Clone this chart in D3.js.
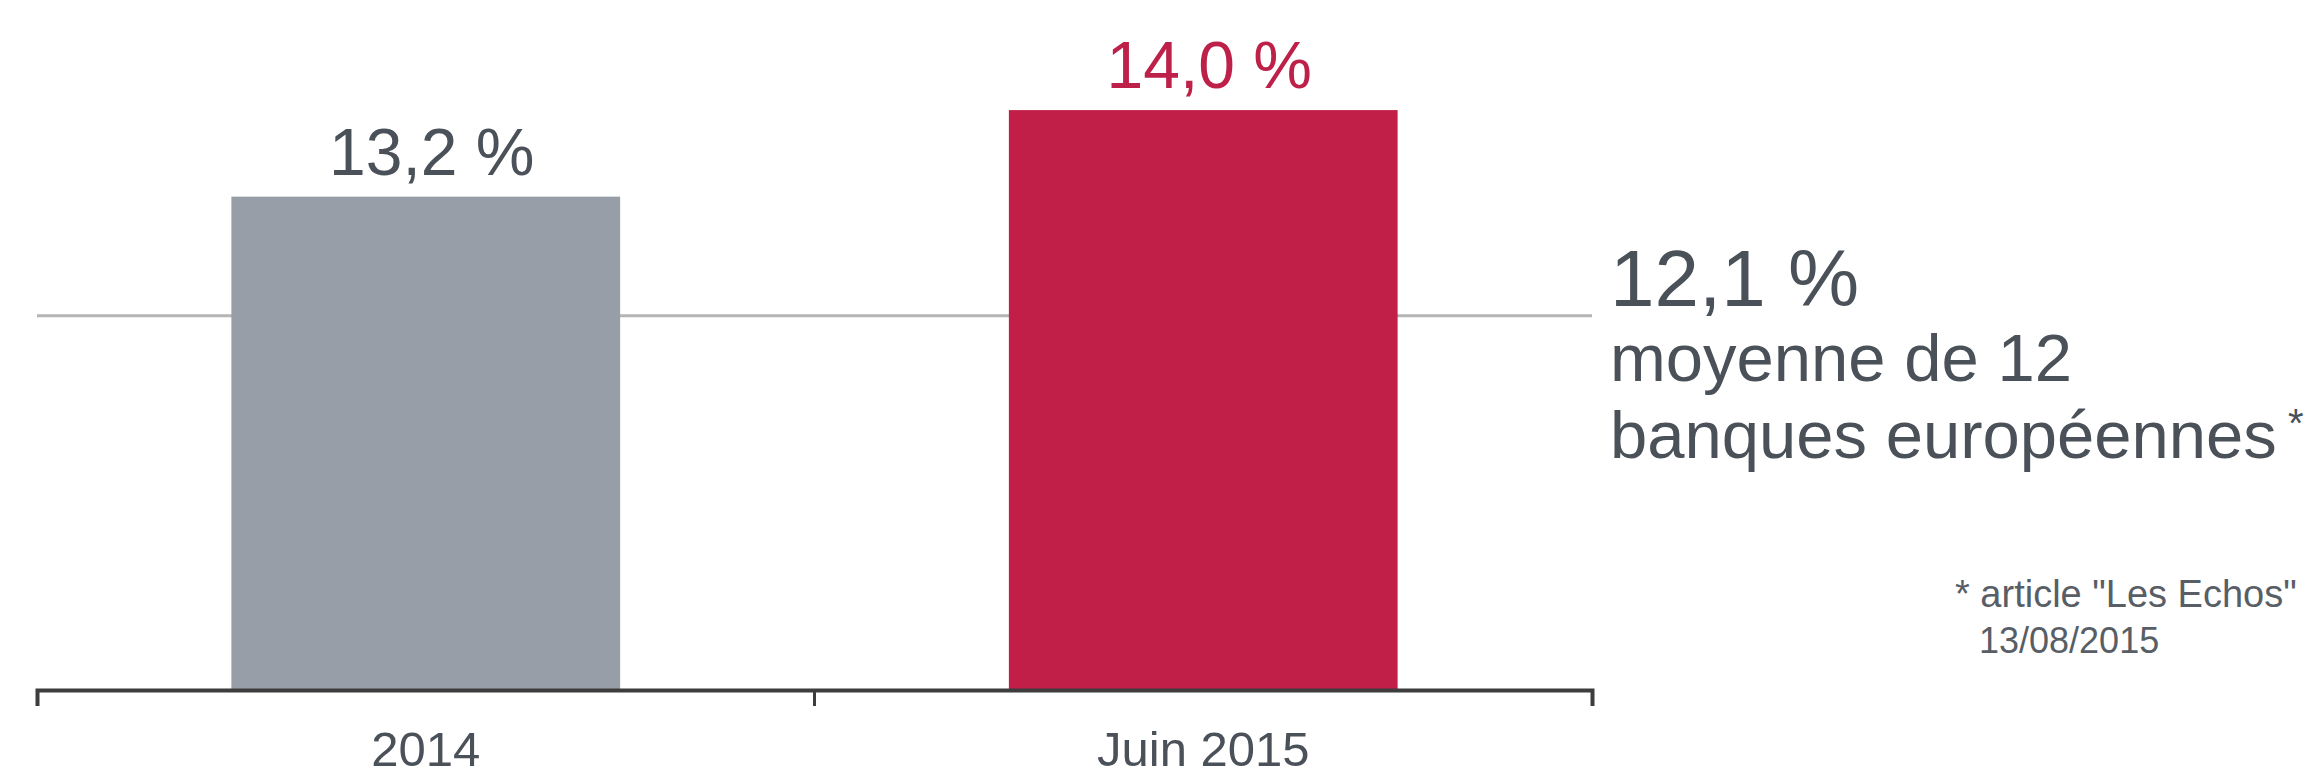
<!DOCTYPE html>
<html>
<head>
<meta charset="utf-8">
<script src="https://cdn.jsdelivr.net/npm/d3@7"></script>
<style>
  html, body { margin: 0; padding: 0; background: #fff; }
  svg { display: block; font-family: "Liberation Sans", Arial, sans-serif; }
</style>
</head>
<body>
<div id="chart"></div>
<script>
// Data
const categories = ['2014', 'Juin 2015'];
const ratios = [13.2, 14.0];
const benchmark = 12.1;
const benchmarkNote = ['moyenne de 12', 'banques européennes'];
const footnote = ['* article "Les Echos"', '13/08/2015'];

// Styles
const barColors = ['#979ea8', '#c21f48'];
const labelColors = ['#4b5159', '#bd2049'];
const textColor = '#4b5159';

const W = 2316, H = 778;

// French number format: 13,2 %
const fr = d3.formatLocale({ decimal: ',', thousands: '\u00a0', grouping: [3], currency: ['', ' €'] });
const pct = v => fr.format('.1f')(v) + ' %';

const svg = d3.select('#chart')
  .append('svg')
  .attr('width', W)
  .attr('height', H);

// Scales
const x = d3.scaleBand()
  .domain(categories)
  .range([37, 1592])
  .paddingInner(0.5)
  .paddingOuter(0.25);

// truncated value axis (not starting at zero)
const y = d3.scaleLinear()
  .domain([8.64, 14.5])
  .range([690, 56]);

// Benchmark line (behind bars)
svg.append('line')
  .attr('x1', x.range()[0])
  .attr('x2', x.range()[1])
  .attr('y1', y(benchmark))
  .attr('y2', y(benchmark))
  .attr('stroke', '#b5b5b5')
  .attr('stroke-width', 3);

// Bars
svg.selectAll('rect.bar')
  .data(categories)
  .enter()
  .append('rect')
  .attr('class', 'bar')
  .attr('x', d => x(d))
  .attr('width', x.bandwidth())
  .attr('y', (d, i) => y(ratios[i]))
  .attr('height', (d, i) => y.range()[0] - y(ratios[i]))
  .attr('fill', (d, i) => barColors[i]);

// Value labels
svg.selectAll('text.value')
  .data(categories)
  .enter()
  .append('text')
  .attr('class', 'value')
  .attr('x', d => x(d) + x.bandwidth() / 2 + 6)
  .attr('y', (d, i) => y(ratios[i]) - 22)
  .attr('text-anchor', 'middle')
  .attr('font-size', 66)
  .attr('fill', (d, i) => labelColors[i])
  .text((d, i) => pct(ratios[i]));

// X axis
const axis = svg.append('g')
  .attr('transform', `translate(0,${y.range()[0]})`)
  .call(d3.axisBottom(x).tickSize(0).tickSizeOuter(16).tickPadding(41));

axis.select('.domain')
  .attr('stroke', '#3d3d3d')
  .attr('stroke-width', 4);

axis.selectAll('.tick text')
  .attr('font-family', '"Liberation Sans", Arial, sans-serif')
  .attr('font-size', 49)
  .attr('fill', textColor);

// boundary tick between the two categories
axis.selectAll('line.sep')
  .data(categories.slice(1))
  .enter()
  .append('line')
  .attr('class', 'sep')
  .attr('x1', d => x(d) - x.step() * x.paddingInner() / 2)
  .attr('x2', d => x(d) - x.step() * x.paddingInner() / 2)
  .attr('y1', 0)
  .attr('y2', 16)
  .attr('stroke', '#3d3d3d')
  .attr('stroke-width', 3);

// Benchmark annotation
const note = svg.append('g')
  .attr('transform', `translate(1610,${y(benchmark) - 10})`)
  .attr('fill', textColor);

note.append('text')
  .attr('font-size', 80)
  .text(pct(benchmark));

note.append('text')
  .attr('y', 75)
  .attr('font-size', 67)
  .text(benchmarkNote[0]);

const l2 = note.append('text')
  .attr('y', 152)
  .attr('font-size', 67)
  .text(benchmarkNote[1]);

l2.append('tspan')
  .attr('font-size', 40)
  .attr('dy', -21)
  .text(' *');

// Footnote
svg.append('g')
  .selectAll('text')
  .data(footnote)
  .enter()
  .append('text')
  .attr('x', (d, i) => i === 0 ? 1955 : 1979)
  .attr('y', (d, i) => 607 + i * 46)
  .attr('font-size', (d, i) => i === 0 ? 38 : 36)
  .attr('fill', '#585e66')
  .text(d => d);
</script>
</body>
</html>
